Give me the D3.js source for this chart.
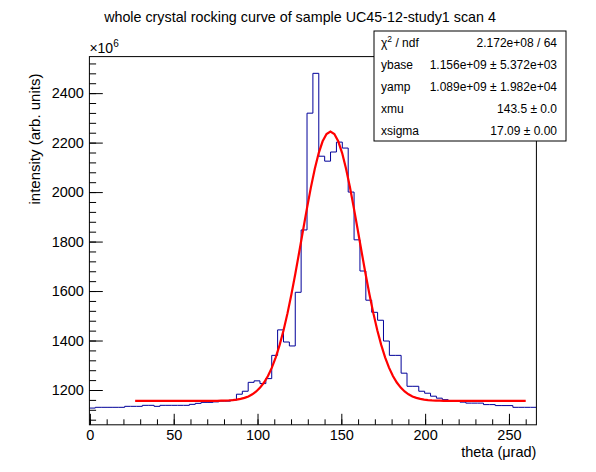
<!DOCTYPE html>
<html>
<head>
<meta charset="utf-8">
<script src="https://cdn.jsdelivr.net/npm/d3@7"></script>
<style>
  body { margin: 0; background: #fff; }
  svg { font-family: "Liberation Sans", Arial, Helvetica, sans-serif; }
</style>
</head>
<body>
<div id="chart"></div>
<script>
// Histogram binning (theta, urad) and bin contents (x 1e6)
var binLow = -0.3,
    binWidth = 3.509;

var counts = [
  1127, 1130, 1130, 1130, 1130, 1130, 1134, 1134, 1134, 1138,
  1138, 1134, 1138, 1138, 1138, 1138, 1138, 1142, 1146, 1150,
  1150, 1152, 1155, 1155, 1159, 1183, 1195, 1231, 1237, 1226,
  1246, 1340, 1443, 1394, 1378, 1595, 1847, 2319, 2480, 2145,
  2125, 2162, 2202, 2178, 2000, 1807, 1681, 1563, 1514, 1482,
  1398, 1340, 1340, 1268, 1215, 1215, 1195, 1187, 1175, 1167,
  1161, 1157, 1157, 1151, 1147, 1147, 1147, 1141, 1141, 1137,
  1137, 1137, 1130, 1130, 1130, 1130
];

// Fit result: ybase, yamp, xmu, xsigma (y in units of 1e6)
var fitParams = [1156, 1089, 143.5, 17.09];
var fitRange = [27, 260];

var statNames = ["ybase", "yamp", "xmu", "xsigma"];
var statValues = ["1.156e+09 \u00b1 5.372e+03", "1.089e+09 \u00b1 1.982e+04",
                  "143.5 \u00b1 0.0", "17.09 \u00b1 0.00"];
var chi2Text = "2.172e+08 / 64";

var xTicks = [0, 50, 100, 150, 200, 250];
var yTicks = [1200, 1400, 1600, 1800, 2000, 2200, 2400];

// Set graph margins and dimensions
var margin = {top: 56.6, right: 59.6, bottom: 47.2, left: 89.4},
    width = 596 - margin.left - margin.right,
    height = 472 - margin.top - margin.bottom;

var xMax = binLow + counts.length * binWidth;
var x = d3.scaleLinear()
          .domain([binLow, xMax])
          .range([0, width]);

// ROOT style: 5% head room above and below the histogram range
var cMin = d3.min(counts), cMax = d3.max(counts),
    pad = 0.05 * (cMax - cMin);
var y = d3.scaleLinear()
          .domain([cMin - pad, cMax + pad])
          .range([height, 0]);

var svg = d3.select("#chart").append("svg")
    .attr("width", 596)
    .attr("height", 472);

var g = svg.append("g")
    .attr("transform", "translate(" + margin.left + "," + margin.top + ")");

g.append("clipPath").attr("id", "frame-clip")
  .append("rect").attr("width", width).attr("height", height);

// Histogram outline
var pts = [];
counts.forEach(function(c, i) {
  var x0 = binLow + i * binWidth;
  pts.push([x0, c], [x0 + binWidth, c]);
});

g.append("path")
    .datum(pts)
    .attr("clip-path", "url(#frame-clip)")
    .attr("fill", "none")
    .attr("stroke", "#000099")
    .attr("stroke-width", 1)
    .attr("d", d3.line()
      .x(function(d) { return x(d[0]); })
      .y(function(d) { return y(d[1]); }));

// Fit function drawn with 100 points over the fit range
function gaus(t) {
  var u = (t - fitParams[2]) / fitParams[3];
  return fitParams[0] + fitParams[1] * Math.exp(-0.5 * u * u);
}
var fitPts = d3.range(101).map(function(i) {
  var t = fitRange[0] + i * (fitRange[1] - fitRange[0]) / 100;
  return [t, gaus(t)];
});

g.append("path")
    .datum(fitPts)
    .attr("fill", "none")
    .attr("stroke", "#ff0000")
    .attr("stroke-width", 2.2)
    .attr("d", d3.line()
      .x(function(d) { return x(d[0]); })
      .y(function(d) { return y(d[1]); }));

// Axes, ticks pointing into the frame
function styleAxis(sel) {
  sel.select(".domain").remove();
  sel.selectAll("line").attr("stroke", "#000");
  sel.selectAll("text")
     .attr("fill", "#000")
     .style("font-size", "14.5px")
     .style("font-family", "'Liberation Sans', Arial, sans-serif");
}

g.append("g")
    .attr("transform", "translate(0," + height + ")")
    .call(d3.axisBottom(x).tickValues(d3.range(0, 261, 10)).tickSize(-5.5).tickFormat(""))
    .call(styleAxis);
g.append("g")
    .attr("transform", "translate(0," + height + ")")
    .call(d3.axisBottom(x).tickValues(xTicks).tickSize(-11).tickPadding(4.5).tickFormat(d3.format("d")))
    .call(styleAxis);

g.append("g")
    .call(d3.axisLeft(y).tickValues(d3.range(1080, 2548, 40)).tickSize(-6.7).tickFormat(""))
    .call(styleAxis);
g.append("g")
    .call(d3.axisLeft(y).tickValues(yTicks).tickSize(-13.4).tickPadding(5.5).tickFormat(d3.format("d")))
    .call(styleAxis);

// Frame
g.append("rect")
    .attr("width", width)
    .attr("height", height)
    .attr("fill", "none")
    .attr("stroke", "#000")
    .attr("stroke-width", 1);

// Exponent label
var expo = g.append("text")
    .attr("x", 0)
    .attr("y", -4)
    .style("font-size", "14px")
    .text("\u00d710");
expo.append("tspan").attr("dy", -6).style("font-size", "10px").text("6");

// Axis titles
g.append("text")
    .attr("x", width)
    .attr("y", height + 32.5)
    .style("text-anchor", "end")
    .style("font-size", "14.5px")
    .text("theta (\u03bcrad)");

g.append("text")
    .attr("transform", "rotate(-90)")
    .attr("x", -17)
    .attr("y", -margin.left + 40)
    .style("text-anchor", "end")
    .style("font-size", "15px")
    .text("intensity (arb. units)");

// Title
svg.append("text")
    .attr("x", 300)
    .attr("y", 22)
    .style("text-anchor", "middle")
    .style("font-size", "14.3px")
    .text("whole crystal rocking curve of sample UC45-12-study1 scan 4");

// Stats box
var box = svg.append("g").attr("transform", "translate(374,31)");
var boxW = 192, rowH = 22;
box.append("rect")
    .attr("width", boxW)
    .attr("height", rowH * 5)
    .attr("fill", "#fff")
    .attr("stroke", "#000")
    .attr("stroke-width", 1);

var chi = box.append("text")
    .attr("x", 7).attr("y", rowH * 0.5 + 4.5)
    .style("font-size", "12px")
    .text("\u03c7");
chi.append("tspan").attr("dy", -5).style("font-size", "8.5px").text("2");
chi.append("tspan").attr("dy", 5).text(" / ndf");

box.append("text")
    .attr("x", boxW - 9).attr("y", rowH * 0.5 + 4.5)
    .style("text-anchor", "end")
    .style("font-size", "12px")
    .text(chi2Text);

box.selectAll(".sname")
    .data(statNames)
  .enter().append("text")
    .attr("class", "sname")
    .attr("x", 7)
    .attr("y", function(d, i) { return rowH * (i + 1.5) + 4.5; })
    .style("font-size", "12px")
    .text(function(d) { return d; });

box.selectAll(".sval")
    .data(statValues)
  .enter().append("text")
    .attr("class", "sval")
    .attr("x", boxW - 9)
    .attr("y", function(d, i) { return rowH * (i + 1.5) + 4.5; })
    .style("text-anchor", "end")
    .style("font-size", "12px")
    .text(function(d) { return d; });
</script>
</body>
</html>
